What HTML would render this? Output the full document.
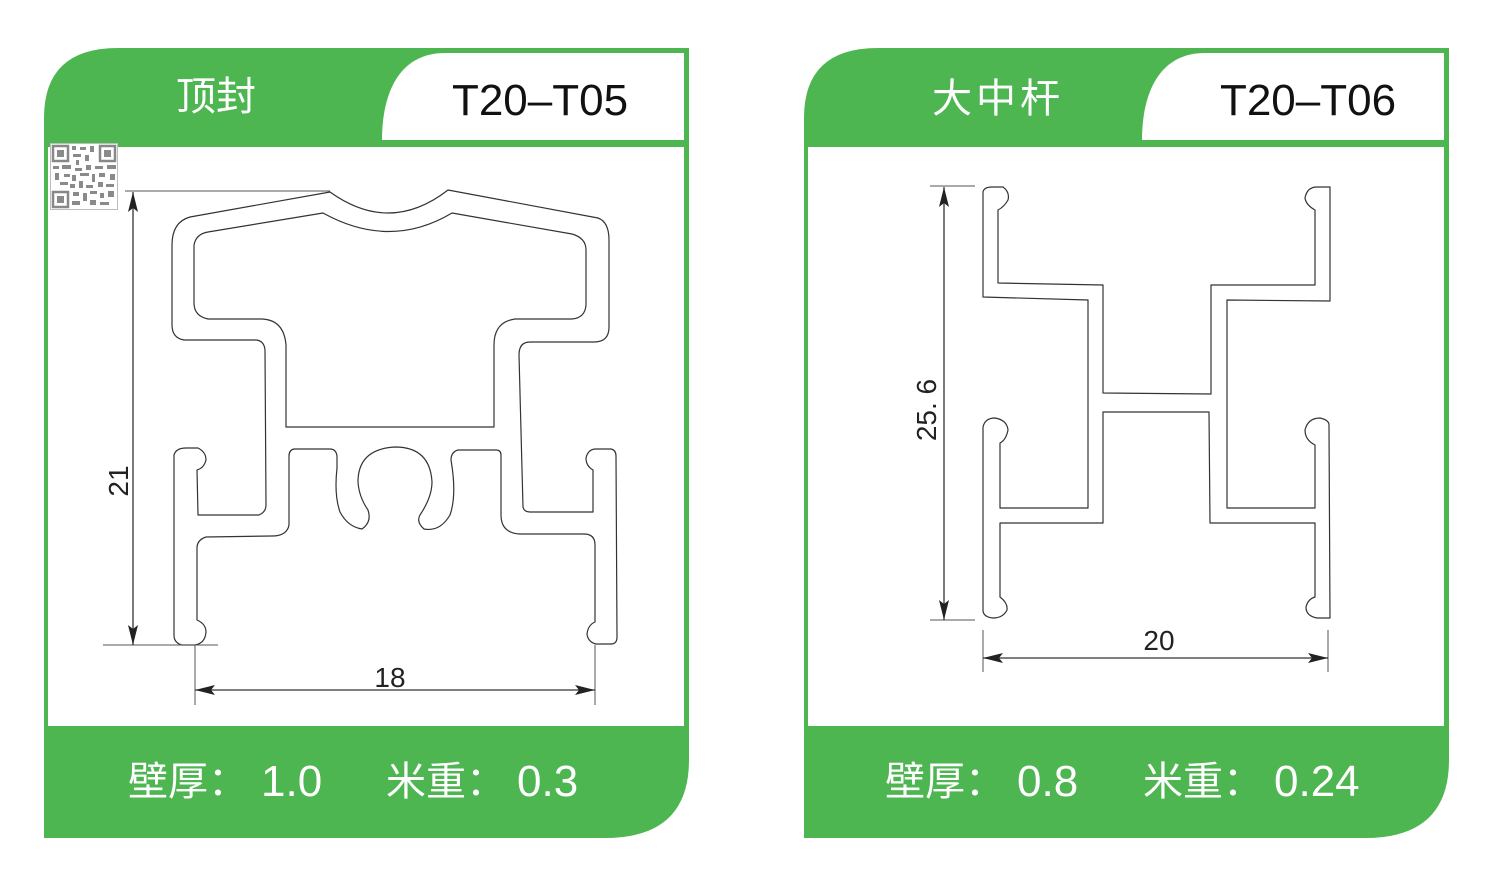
<!DOCTYPE html>
<html><head><meta charset="utf-8"><style>
html,body{margin:0;padding:0;background:#fff;}
svg{display:block;}
text{font-family:"Liberation Sans","Noto Sans CJK SC",sans-serif;}
</style></head><body>
<svg width="1500" height="876" viewBox="0 0 1500 876" xmlns="http://www.w3.org/2000/svg">
<defs>
<g id="card">
<path d="M44,118 Q44,48 118,48 L689,48 L689,760 Q689,838 605,838 L44,838 Z" fill="#4db651"/>
<rect x="48" y="147" width="636" height="579" fill="#fff"/>
<path d="M382,140 C382,95 398,53 445,53 L684,53 L684,140 Z" fill="#fff"/>
</g>
<marker id="ar" viewBox="0 0 20 10" refX="20" refY="5" markerWidth="20" markerHeight="10" markerUnits="userSpaceOnUse" orient="auto-start-reverse">
<path d="M0,0 L20,5 L0,10 L4,5 Z" fill="#222"/>
</marker>
</defs>
<use href="#card"/>
<use href="#card" x="760"/>

<text x="216" y="110" font-size="40" fill="#fff" text-anchor="middle">顶封</text>
<text x="540" y="115" font-size="44" fill="#111" text-anchor="middle">T20–T05</text>
<text x="998" y="112" font-size="40" fill="#fff" text-anchor="middle" letter-spacing="4">大中杆</text>
<text x="1308" y="115" font-size="44" fill="#111" text-anchor="middle">T20–T06</text>

<g fill="#fff">
<text x="128" y="795" font-size="40">壁厚：</text>
<text x="261" y="796" font-size="44">1.0</text>
<text x="386" y="795" font-size="40">米重：</text>
<text x="517" y="796" font-size="44">0.3</text>
<text x="885" y="795" font-size="40">壁厚：</text>
<text x="1017" y="796" font-size="44">0.8</text>
<text x="1143" y="795" font-size="40">米重：</text>
<text x="1274" y="796" font-size="44">0.24</text>
</g>

<g fill="#8a8a8a">
<rect x="50" y="143" width="68" height="67" fill="#bdbdbd"/>
<rect x="51" y="144" width="66" height="65" fill="#fff"/>
<g fill="none" stroke="#888" stroke-width="2.5">
<rect x="53" y="146" width="15" height="15"/><rect x="100" y="146" width="15" height="15"/><rect x="53" y="192" width="15" height="15"/>
</g>
<rect x="57" y="150" width="7" height="7"/><rect x="104" y="150" width="7" height="7"/><rect x="57" y="196" width="7" height="7"/>
<rect x="72" y="146" width="4" height="4"/><rect x="80" y="147" width="6" height="3"/><rect x="90" y="146" width="4" height="6"/>
<rect x="73" y="154" width="8" height="3"/><rect x="85" y="155" width="4" height="6"/><rect x="76" y="160" width="3" height="5"/>
<rect x="53" y="166" width="6" height="3"/><rect x="62" y="165" width="9" height="4"/><rect x="75" y="168" width="7" height="3"/>
<rect x="86" y="165" width="5" height="5"/><rect x="95" y="166" width="8" height="3"/><rect x="107" y="165" width="9" height="4"/>
<rect x="55" y="173" width="4" height="7"/><rect x="64" y="174" width="6" height="3"/><rect x="72" y="175" width="4" height="6"/>
<rect x="80" y="173" width="9" height="3"/><rect x="92" y="174" width="3" height="8"/><rect x="99" y="173" width="6" height="4"/>
<rect x="110" y="174" width="5" height="6"/><rect x="60" y="182" width="8" height="3"/><rect x="70" y="184" width="5" height="4"/>
<rect x="79" y="181" width="4" height="7"/><rect x="86" y="185" width="7" height="3"/><rect x="98" y="182" width="5" height="5"/>
<rect x="106" y="184" width="8" height="3"/><rect x="73" y="192" width="6" height="4"/><rect x="83" y="193" width="4" height="8"/>
<rect x="90" y="191" width="7" height="3"/><rect x="100" y="193" width="4" height="5"/><rect x="108" y="191" width="6" height="6"/>
<rect x="72" y="201" width="8" height="4"/><rect x="90" y="200" width="6" height="5"/><rect x="100" y="202" width="9" height="3"/>
</g>

<g fill="none" stroke="#333" stroke-width="1.2" stroke-linejoin="round">
<path d="M172,245 Q172,222 190,217 L330,192 Q390,235 448,190 L598,218 Q609,222 609,240 L609,327 Q609,342 594,342 L530,342 Q519,342 519,355 L523,507 Q524,512 530,512 L593,512 L593,470 Q586,466 586,458 Q588,449 596,449 L611,449 Q616,450 616,456 L617,637 Q617,644 611,644 L596,644 Q588,642 587,634 Q588,625 595,622 L595,545 Q595,534 584,534 L520,534 Q501,533 501,515 L501,455 Q501,450 496,450 L458,450 Q451,452 451,460 Q457,495 450,515 Q440,532 424,529 Q416,522 420,515 Q432,497 432,482 Q430,447 395,447 Q358,449 358,482 Q359,497 368,510 Q372,522 362,529 Q348,527 340,512 Q334,495 337,468 L337,456 Q336,449 330,449 L294,449 Q289,450 289,456 L289,525 Q287,536 272,536 L206,537 Q197,540 197,548 L197,620 Q206,624 206,632 Q205,644 194,645 L182,645 Q174,643 174,635 L174,455 Q176,448 186,448 L198,448 Q206,452 206,460 Q204,468 197,470 L198,515 L259,515 Q266,512 266,505 L265,350 Q264,340 255,340 L184,340 Q172,338 172,325 Z"/>
<path d="M194,245 Q196,234 208,232 L323,213 Q390,250 452,213 L572,234 Q586,238 586,250 L586,305 Q585,318 572,319 L515,319 Q494,322 494,345 L494,427 L286,427 L286,345 Q284,320 262,319 L208,319 Q194,316 194,303 Z"/>
</g>
<g stroke="#555" stroke-width="1" fill="none">
<line x1="125" y1="191" x2="330" y2="191"/>
<line x1="103" y1="645" x2="218" y2="645"/>
<line x1="195" y1="645" x2="195" y2="705"/>
<line x1="595" y1="645" x2="595" y2="705"/>
<line x1="133" y1="192" x2="133" y2="645" stroke="#333" stroke-width="1.3" marker-start="url(#ar)" marker-end="url(#ar)"/>
<line x1="195" y1="690" x2="595" y2="690" stroke="#333" stroke-width="1.3" marker-start="url(#ar)" marker-end="url(#ar)"/>
</g>
<text x="390" y="687" font-size="28" fill="#222" text-anchor="middle">18</text>
<text transform="translate(128,481) rotate(-90)" font-size="28" fill="#222" text-anchor="middle">21</text>

<g fill="none" stroke="#333" stroke-width="1.2" stroke-linejoin="round">
<path d="M983,192 Q984,187 992,187 L1003,187 Q1010,192 1008,200 Q1004,207 998,210 L998,283 L1103,285 L1103,393 L1211,394 L1211,285 L1315,285 L1315,210 Q1306,205 1305,198 Q1307,187 1317,187 L1330,187 L1330,301 L1227,300 L1227,508 L1315,508 L1315,445 Q1305,440 1305,430 Q1308,418 1320,418 Q1329,420 1329,425 L1330,618 L1317,618 Q1306,616 1306,607 Q1308,599 1315,597 L1315,523 L1210,523 L1209,412 L1103,412 L1103,523 L1000,523 L1000,597 Q1008,603 1007,610 Q1003,618 993,618 Q983,617 983,610 L983,427 Q985,418 995,418 Q1007,420 1008,430 Q1006,440 1000,443 L1000,508 L1088,508 L1088,300 L983,297 Z"/>
</g>
<g stroke="#555" stroke-width="1" fill="none">
<line x1="930" y1="186" x2="975" y2="186"/>
<line x1="930" y1="620" x2="975" y2="620"/>
<line x1="983" y1="630" x2="983" y2="672"/>
<line x1="1328" y1="630" x2="1328" y2="672"/>
<line x1="944" y1="187" x2="944" y2="620" stroke="#333" stroke-width="1.3" marker-start="url(#ar)" marker-end="url(#ar)"/>
<line x1="983" y1="658" x2="1328" y2="658" stroke="#333" stroke-width="1.3" marker-start="url(#ar)" marker-end="url(#ar)"/>
</g>
<text x="1159" y="650" font-size="28" fill="#222" text-anchor="middle">20</text>
<text transform="translate(936,410) rotate(-90)" font-size="28" fill="#222" text-anchor="middle">25. 6</text>
</svg>
</body></html>
